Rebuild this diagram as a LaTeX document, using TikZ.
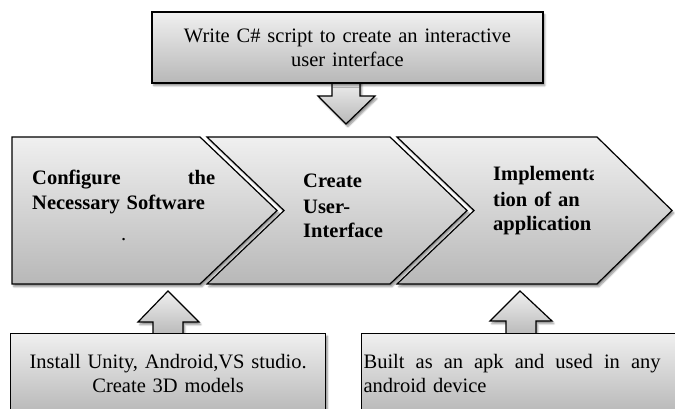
\documentclass[tikz,border=0pt]{standalone}
\usepackage{fontspec}
\setmainfont{Liberation Serif}
\usetikzlibrary{shadows.blur}

\tikzset{
  panel/.style={draw=black, line width=1.2pt, line join=miter,
    top color=black!6, bottom color=black!28,
    blur shadow={shadow xshift=1.8pt, shadow yshift=-2.6pt, shadow blur steps=6, shadow opacity=45}},
  plaintext/.style={font=\fontsize{20.5}{24}\selectfont},
  boldtext/.style={font=\fontsize{20.5}{25}\selectfont\bfseries, align=left, anchor=base west, inner sep=0pt}
}

\begin{document}
\begin{tikzpicture}[x=1pt,y=-1pt]
  \useasboundingbox (0,0) rectangle (675,409);
  \clip (0,0) rectangle (675,409);

  % block arrows first, the boxes cover their shaft ends
  \draw[panel] (332,80) -- (332,96) -- (318,96) -- (346,124) -- (375,96) -- (360,96) -- (360,80) -- cycle;
  \draw[panel] (153,336) -- (153,322) -- (138,322) -- (168,291) -- (199,322) -- (183,322) -- (183,336) -- cycle;
  \draw[panel] (506,336) -- (506,321) -- (490,321) -- (520,291) -- (552,321) -- (536,321) -- (536,336) -- cycle;

  \node[panel, plaintext, minimum width=391pt, minimum height=71pt, text width=375pt, align=center]
    (script) at (347.5,47.5) {Write C\# script to create an interactive\\user interface};

  % chevrons
  \draw[panel] (12,137) -- (200,137) -- (277,210.5) -- (200,284) -- (12,284) -- cycle;
  \draw[panel] (207,137) -- (390,137) -- (467,210.5) -- (390,284) -- (207,284) -- (284,210.5) -- cycle;
  \draw[panel] (397,137) -- (597,137) -- (672,210.5) -- (597,284) -- (397,284) -- (474,210.5) -- cycle;

  \node[boldtext, text width=183pt] (config) at (32,185)
    {Configure\hfill the\\Necessary Software\\[6pt]\makebox[\linewidth]{\mdseries .}};
  \node[boldtext, text width=100pt] (create) at (303,188) {Create\\User-\\Interface};
  \begin{scope}
    \clip (485,150) rectangle (593,250);
    \node[boldtext, text width=110pt] (implement) at (493,181) {Implementa\\tion of an\\application};
  \end{scope}

  \node[panel, plaintext, anchor=north west, minimum width=315pt, minimum height=80pt,
    text width=305pt, align=center] (install) at (10,333)
    {Install Unity, Android,VS studio.\\Create 3D models};
  \node[panel, plaintext, anchor=north west, minimum height=80pt,
    inner xsep=2pt, text width=318pt, align=left] (built) at (361,333)
    {Built\hfill as\hfill an\hfill apk\hfill and\hfill used\hfill in\hfill any\rule{21pt}{0pt}\\android device};
\end{tikzpicture}
\end{document}
